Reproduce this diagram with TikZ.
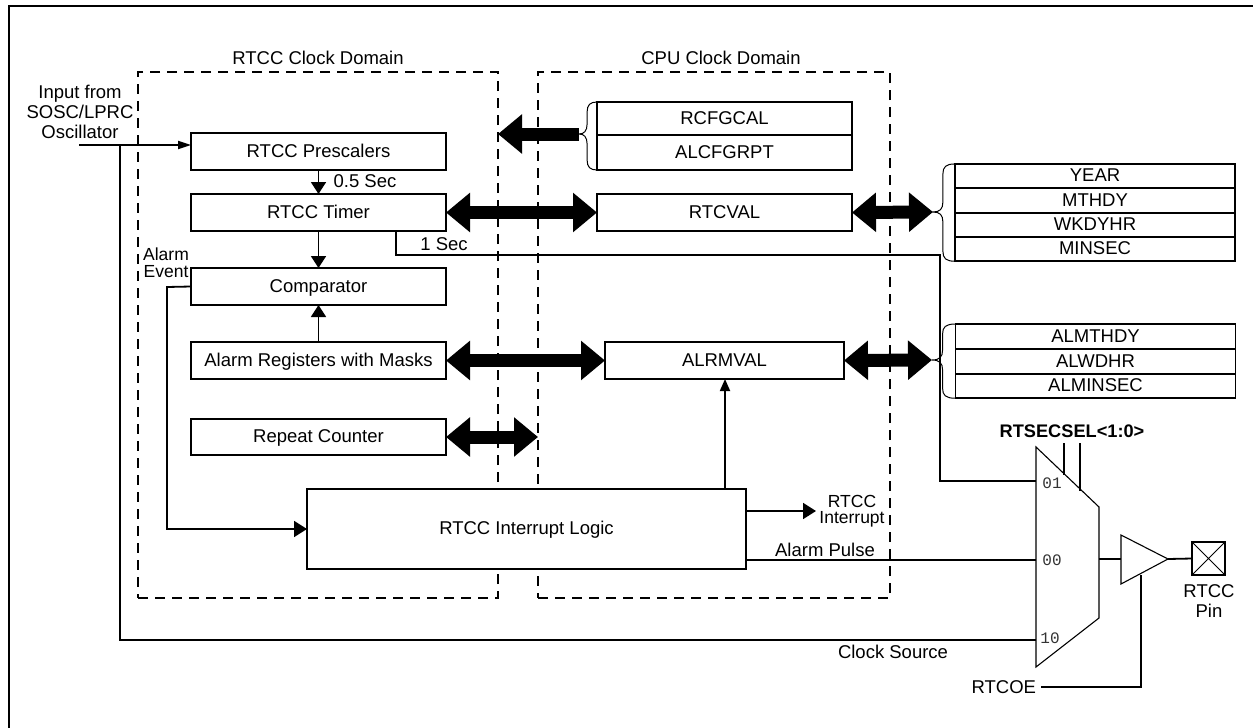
\documentclass[tikz,border=0pt]{standalone}
\usepackage{fontspec}
\setmainfont{Liberation Sans}
\newfontfamily\muxfont{Liberation Mono}
\usetikzlibrary{arrows.meta, positioning, calc}
\definecolor{muxGray}{HTML}{333333}
\tikzset{
    regbox/.style={draw, fill=white, line width=1.8pt, inner sep=0pt, outer sep=0pt, text height=13.3pt, text depth=2pt},
    rowbox/.style={regbox, minimum width=280pt},
    domainbox/.style={draw, dashed, dash pattern=on 10pt off 7pt, line width=1.4pt, inner sep=0pt, outer sep=0pt},
    label/.style={inner sep=0pt, outer sep=0pt, align=center},
    wire/.style={line width=1.8pt},
    thinarrow/.style={wire, -{Triangle[length=13pt,width=8pt]}},
    openarrow/.style={wire, -{Triangle[length=12pt,width=15pt]}},
    busarrow/.style={line width=13pt, -{Triangle[length=24pt,width=38pt]}},
    busboth/.style={line width=13pt, {Triangle[length=24pt,width=38pt]}-{Triangle[length=24pt,width=38pt]}},
    bracewire/.style={line width=1pt}
}
% brace from the top anchor to the bottom anchor, with its point at a named tip
\newcommand{\regbrace}[3]{
    \coordinate (m) at ($(#3)!0.45!(#3 -| #1)$);
    \draw[bracewire] (#1) .. controls ($(m |- #1)+(3,0)$) and ($(m |- #1)+(0,3)$) .. ($(m |- #1)+(0,10)$)
        -- ($(m)+(0,-10)$) .. controls ($(m)+(0,-3)$) and ($(m)+(-3,0)$) .. (#3)
        .. controls ($(m)+(-3,0)$) and ($(m)+(0,3)$) .. ($(m)+(0,10)$)
        -- ($(m |- #2)+(0,-10)$) .. controls ($(m |- #2)+(0,-3)$) and ($(m |- #2)+(3,0)$) .. (#2);
}
\begin{document}
\begin{tikzpicture}[x=1pt, y=-1pt, font=\fontsize{18.5}{20}\selectfont]
    \useasboundingbox (0,0) rectangle (1253,728);
    % Frame, open to the right and below
    \coordinate (frameright) at (1253,6);
    \coordinate (framecorner) at (9,6);
    \coordinate (framebottom) at (9,728);
    \draw[line width=2pt] (frameright) -- (framecorner) -- (framebottom);

    % Clock domains
    \node[domainbox, minimum width=360pt, minimum height=526pt] (rtccdomain) at (318,335) {};
    \node[domainbox, minimum width=352pt, minimum height=526pt] (cpudomain) at (714,335) {};
    \node[label] (rtcctitle) at (318,58) {RTCC Clock Domain};
    \node[label] (cputitle) at (721,58) {CPU Clock Domain};

    % RTCC side
    \node[regbox, minimum width=255pt, minimum height=37pt] (prescalers) at (318.5,151.5) {RTCC Prescalers};
    \node[regbox, minimum width=255pt, minimum height=37pt] (timer) at (318.5,212.5) {RTCC Timer};
    \node[regbox, minimum width=255pt, minimum height=37pt] (comparator) at (318.5,286.5) {Comparator};
    \node[regbox, minimum width=255pt, minimum height=37pt] (alarmregs) at (318.5,360.5) {Alarm Registers with Masks};
    \node[regbox, minimum width=255pt, minimum height=36pt] (repeat) at (318.5,437) {Repeat Counter};
    \node[regbox, minimum width=439pt, minimum height=80pt] (interrupt) at (526.5,529) {RTCC Interrupt Logic};

    % CPU side
    \node[regbox, minimum width=255pt, minimum height=33pt] (rcfgcal) at (724.5,118.5) {RCFGCAL};
    \node[regbox, minimum width=255pt, minimum height=35pt] (alcfgrpt) at (724.5,152.5) {ALCFGRPT};
    \node[regbox, minimum width=255pt, minimum height=37pt] (rtcval) at (724.5,212.5) {RTCVAL};
    \node[regbox, minimum width=239pt, minimum height=37pt] (alrmval) at (724.5,360.5) {ALRMVAL};

    % Register tables
    \node[rowbox, minimum height=24.5pt] (year) at (1095,176.2) {YEAR};
    \node[rowbox, minimum height=24.5pt] (mthdy) at (1095,200.5) {MTHDY};
    \node[rowbox, minimum height=24.5pt] (wkdyhr) at (1095,225) {WKDYHR};
    \node[rowbox, minimum height=24.5pt] (minsec) at (1095,249) {MINSEC};
    \node[rowbox, minimum height=25pt] (almthdy) at (1095.5,336.5) {ALMTHDY};
    \node[rowbox, minimum height=25pt] (alwdhr) at (1095.5,361.5) {ALWDHR};
    \node[rowbox, minimum height=24.5pt] (alminsec) at (1095.5,386) {ALMINSEC};

    % Braces and wide buses
    \coordinate (cfgtip) at (579,134);
    \coordinate (valtip) at (933,212);
    \coordinate (almtip) at (932,360);
    \regbrace{rcfgcal.north west}{alcfgrpt.south west}{cfgtip}
    \regbrace{year.north west}{minsec.south west}{valtip}
    \regbrace{almthdy.north west}{alminsec.south west}{almtip}
    \draw[busarrow] (cfgtip) -- (rtccdomain.east |- cfgtip);
    \draw[busboth] (timer.east) -- (rtcval.west);
    \draw[busboth] (rtcval.east) -- (valtip);
    \draw[busboth] (alarmregs.east) -- (alrmval.west);
    \draw[busboth] (alrmval.east) -- (almtip);
    \draw[busboth] (repeat.east) -- (cpudomain.west |- repeat.east);

    % Multiplexer and output buffer
    \coordinate (muxtl) at (1036,447);
    \coordinate (muxtr) at (1099,507);
    \coordinate (muxbr) at (1099,618);
    \coordinate (muxbl) at (1036,667);
    \coordinate (mux01) at (1036,481);
    \coordinate (mux00) at (1036,560);
    \coordinate (mux10) at (1036,640);
    \coordinate (muxout) at (1099,559);
    \coordinate (bufin) at (1121,559);
    \coordinate (buftop) at (1121,535);
    \coordinate (bufbot) at (1121,584);
    \coordinate (buftip) at (1168,559);
    \draw[line width=1.1pt] (muxtl) -- (muxtr) -- (muxbr) -- (muxbl) -- cycle;
    \draw[line width=1.1pt] (buftop) -- (buftip) -- (bufbot) -- cycle;
    \node[label, font=\muxfont\fontsize{16}{16}\selectfont, text=muxGray] (sel01) at (1052,483) {01};
    \node[label, font=\muxfont\fontsize{16}{16}\selectfont, text=muxGray] (sel00) at (1052,560) {00};
    \node[label, font=\muxfont\fontsize{16}{16}\selectfont, text=muxGray] (sel10) at (1050,638) {10};
    \node[label, font=\bfseries\fontsize{18.2}{20}\selectfont] (rtsecsel) at (1072,431) {RTSECSEL<1:0>};
    \coordinate (seltopa) at (1064,443);
    \coordinate (selenda) at (1064,475);
    \coordinate (seltopb) at (1080,443);
    \coordinate (selendb) at (1080,491);
    \draw[wire] (seltopa) -- (selenda);
    \draw[wire] (seltopb) -- (selendb);

    % RTCC pin
    \node[draw, line width=1.8pt, minimum size=33pt, inner sep=0pt, outer sep=0pt,
        path picture={\draw[line width=0.9pt] (path picture bounding box.north west) -- (path picture bounding box.south east)
            (path picture bounding box.north east) -- (path picture bounding box.south west);}] (pin) at (1208.5,558.5) {};
    \node[label] (pinlabel) at (1209,601) {RTCC\\Pin};
    \draw[wire] (muxout) -- (bufin);
    \draw[wire] (buftip) -- (pin.west);

    % Clock input
    \node[label] (inputlabel) at (80,112) {Input from\\SOSC/LPRC\\Oscillator};
    \coordinate (clockin) at (79,145);
    \coordinate (clocktap) at (120,145);
    \draw[thinarrow] (clockin) -- (prescalers.west |- clockin);
    \draw[wire] (clocktap) -- (clocktap |- mux10) -- (mux10);
    \node[label] (clocklabel) at (893,652) {Clock Source};

    % Signals inside the RTCC domain
    \draw[openarrow] (prescalers.south) -- (timer.north);
    \node[label] (halfsec) at (365,181) {0.5 Sec};
    \draw[openarrow] (timer.south) -- (comparator.north);
    \draw[openarrow] (alarmregs.north) -- (comparator.south);
    \node[label] (onesec) at (444,244) {1 Sec};
    \coordinate (secout) at (396,231);
    \coordinate (secbend) at (940,255);
    \draw[wire] (secout) |- (secbend) |- (mux01);
    \node[label, font=\fontsize{17.5}{17}\selectfont] (alarmevent) at (166,263) {Alarm\\Event};
    \coordinate (alarmbend) at (167,287);
    \draw[wire, -{Triangle[length=13pt,width=16pt]}] (comparator.west) -- (alarmbend) |- (interrupt.west);

    % Signals out of the interrupt logic
    \coordinate (logicup) at (725,489);
    \draw[wire, -{Triangle[length=12pt,width=10pt]}] (logicup) -- (logicup |- alrmval.south);
    \coordinate (irqout) at (746,511);
    \coordinate (irqend) at (816,511);
    \draw[wire, -{Triangle[length=13pt,width=16pt]}] (irqout) -- (irqend);
    \node[label, font=\fontsize{17.5}{16}\selectfont] (irqlabel) at (852,511) {RTCC\\Interrupt};
    \coordinate (pulseout) at (746,560);
    \draw[wire] (pulseout) -- (mux00);
    \node[label] (pulselabel) at (825,550) {Alarm Pulse};

    % Output enable
    \node[label, anchor=east] (rtcoe) at (1036,687) {RTCOE};
    \coordinate (oestart) at (1041,687);
    \coordinate (oebend) at (1141,687);
    \coordinate (oeend) at (1141,575);
    \draw[wire] (oestart) -- (oebend) -- (oeend);
\end{tikzpicture}
\end{document}
